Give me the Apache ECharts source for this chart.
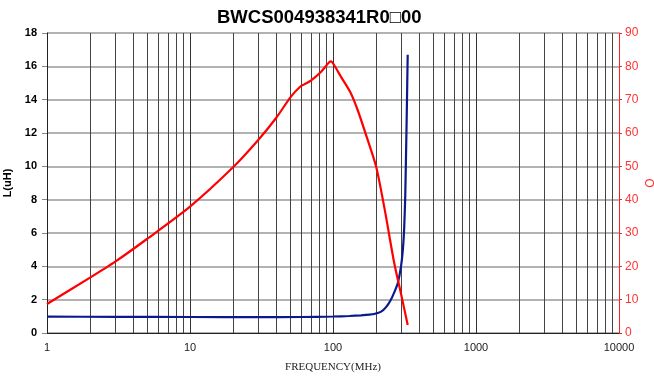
<!DOCTYPE html>
<html>
<head>
<meta charset="utf-8">
<script src="https://cdn.jsdelivr.net/npm/echarts@6/dist/echarts.min.js"></script>
<style>
  html, body { margin: 0; padding: 0; background: #fff; }
  #chart { width: 654px; height: 379px; }
</style>
</head>
<body>
<div id="chart"></div>
<script>
// Inductance L (uH) vs frequency (MHz)
const lFreq = [1, 3, 10, 30, 60, 100, 130, 157, 180, 194, 217, 235, 254, 270, 284, 299, 308, 315, 320, 324, 328, 333];
const lValues = [0.98, 0.97, 0.96, 0.95, 0.96, 0.99, 1.02, 1.06, 1.1, 1.14, 1.28, 1.55, 2.0, 2.5, 3.0, 4.0, 5.0, 6.4, 8.2, 10.6, 13.2, 16.7];

// Quality factor Q vs frequency (MHz)
const qFreq = [1, 2, 3, 5, 10, 20, 30, 40, 50.8, 59.7, 65, 70, 82.6, 94, 97, 101.8, 113.6, 133, 148.7, 170, 200, 230, 268, 300, 333];
const qValues = [8.7, 16.6, 21.4, 28.2, 37.9, 49.7, 57.9, 64.5, 70.9, 74.1, 74.9, 75.7, 78.4, 81.2, 81.5, 80.4, 76.9, 72, 66.9, 59.5, 50, 37, 21, 11.5, 2.4];

// vertical grid lines between decades
const minorFreq = [2, 3, 4, 5, 6, 7, 8, 9,
  20, 30, 40, 50, 60, 70, 80, 90,
  200, 300, 400, 500, 600, 700, 800, 900,
  2000, 3000, 4000, 5000, 6000, 7000, 8000, 9000];

const xLabels = { 1: '1', 10: '10', 100: '100', 1000: '1000', 10000: '10000' };

const chart = echarts.init(document.getElementById('chart'), null, { renderer: 'canvas' });

chart.setOption({
  animation: false,
  title: {
    text: 'BWCS004938341R0\u25A100',
    left: 212,
    top: 3,
    textStyle: { fontFamily: 'Arial, Liberation Sans', fontWeight: 'bold', fontSize: 18.5, color: '#000' }
  },
  grid: { left: 47, right: 35, top: 33, bottom: 46, outerBoundsMode: 'none' },
  xAxis: {
    type: 'log',
    logBase: 10,
    min: 1,
    max: 10000,
    name: 'FREQUENCY(MHz)',
    nameLocation: 'middle',
    nameGap: 29,
    nameTextStyle: { fontFamily: 'Liberation Serif, DejaVu Serif', fontSize: 11, color: '#222' },
    axisLine: { show: true, lineStyle: { color: '#222', width: 1 } },
    axisTick: { show: false },
    axisLabel: {
      fontFamily: 'Arial, Liberation Sans', fontSize: 11, color: '#222', margin: 9,
      formatter: v => xLabels[Math.round(v)] || ''
    },
    splitLine: { show: true, lineStyle: { color: '#333', width: 1 } }
  },
  yAxis: [
    {
      type: 'value',
      min: 0, max: 18, interval: 2,
      name: 'L(uH)',
      nameLocation: 'middle',
      nameGap: 30,
      nameTextStyle: { fontFamily: 'Arial, Liberation Sans', fontSize: 11, fontWeight: 'bold', color: '#000' },
      axisLine: { show: true, lineStyle: { color: '#222', width: 1 } },
      axisTick: { show: true, length: 5, lineStyle: { color: '#888' } },
      axisLabel: { fontFamily: 'Arial, Liberation Sans', fontSize: 11, fontWeight: 'bold', color: '#000', margin: 10 },
      splitLine: { show: true, lineStyle: { color: '#999', width: 1.5 } }
    },
    {
      type: 'value',
      min: 0, max: 90, interval: 10,
      name: 'Q',
      nameLocation: 'middle',
      nameGap: 26,
      nameRotate: 90,
      nameMoveOverlap: false,
      nameTextStyle: { fontFamily: 'Arial, Liberation Sans', fontSize: 12, color: '#ff3333' },
      axisLine: { show: true, lineStyle: { color: '#ff2020', width: 1 } },
      axisTick: { show: true, length: 3, lineStyle: { color: '#ff2020' } },
      axisLabel: { fontFamily: 'Arial, Liberation Sans', fontSize: 12, color: '#ff3333', margin: 6 },
      splitLine: { show: false }
    }
  ],
  series: [
    {
      name: 'grid',
      type: 'line',
      data: [],
      silent: true,
      markLine: {
        silent: true,
        symbol: 'none',
        label: { show: false },
        lineStyle: { color: '#444', width: 1, type: 'solid' },
        data: minorFreq.map(f => ({ xAxis: f }))
      }
    },
    {
      name: 'L',
      type: 'line',
      yAxisIndex: 0,
      data: lFreq.map((f, i) => [f, lValues[i]]),
      showSymbol: false,
      smooth: 0.2,
      lineStyle: { color: '#0a1a8c', width: 2.2 },
      z: 5
    },
    {
      name: 'Q',
      type: 'line',
      yAxisIndex: 1,
      data: qFreq.map((f, i) => [f, qValues[i]]),
      showSymbol: false,
      smooth: 0.25,
      lineStyle: { color: '#ff0000', width: 2.2 },
      z: 6
    }
  ]
});
</script>
</body>
</html>
